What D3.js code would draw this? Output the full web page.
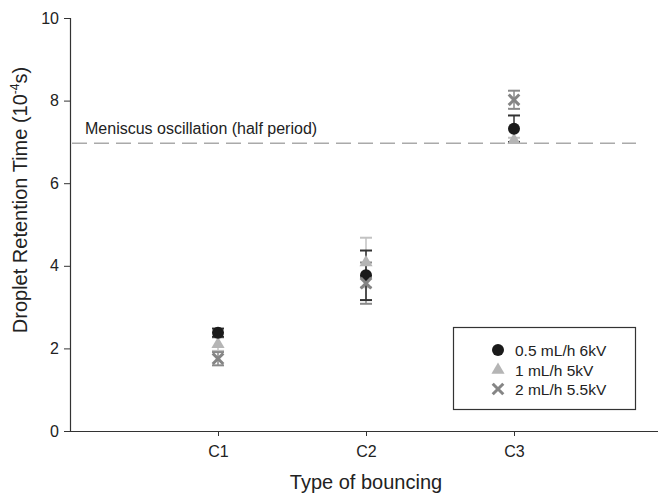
<!DOCTYPE html>
<html><head><meta charset="utf-8">
<script src="https://cdn.jsdelivr.net/npm/d3@7"></script>
<style>body{margin:0;background:#fff}svg{display:block}text{font-family:"Liberation Sans",Arial,sans-serif}</style>
</head><body><svg id="c" width="658" height="493"></svg>
<script>
const categories = ["C1","C2","C3"];
const seriesNames = ["0.5 mL/h 6kV","1 mL/h 5kV","2 mL/h 5.5kV"];
const circleVals = [2.38, 3.77, 7.32];
const circleErr = [0.10, 0.60, 0.32];
const triVals = [2.10, 4.08, 7.04];
const triErr = [0.16, 0.60, 0.06];
const crossVals = [1.75, 3.58, 8.02];
const crossErr = [0.16, 0.50, 0.22];
const yTicks = [0,2,4,6,8,10];
const refLine = 6.97;
const refLabel = "Meniscus oscillation (half period)";

const svg = d3.select("#c");
const x = d3.scaleLinear().domain([0,4]).range([70,662]);
const y = d3.scaleLinear().domain([0,10]).range([431,18]);
const xc = i => x(i+1);

// axes
const ya = svg.append("g").attr("transform","translate(70,0)")
  .call(d3.axisLeft(y).tickValues(yTicks).tickSize(6).tickPadding(5));
ya.selectAll("text").attr("font-size",16).attr("fill","#222");
const xa = svg.append("g").attr("transform","translate(0,431)")
  .call(d3.axisBottom(x).tickValues([1,2,3]).tickFormat(d=>categories[d-1]).tickSize(5).tickPadding(10));
xa.selectAll("text").attr("font-size",16).attr("fill","#222");
svg.selectAll(".domain").attr("stroke","#333").attr("stroke-width",1.2);
svg.selectAll(".tick line").attr("stroke","#333");
xa.select(".domain").attr("d","M70,0.5H658");
ya.select(".domain").attr("d","M0.5,18V431");

// titles
svg.append("text").attr("x",366).attr("y",489).attr("text-anchor","middle").attr("font-size",20).attr("fill","#222").text("Type of bouncing");
const yl = svg.append("text").attr("transform","translate(27,200) rotate(-90)").attr("text-anchor","middle").attr("font-size",20).attr("fill","#222");
yl.append("tspan").text("Droplet Retention Time (10");
yl.append("tspan").attr("font-size",12).attr("dy",-8).text("-4");
yl.append("tspan").attr("dy",8).text("s)");

// reference line
svg.append("line").attr("x1",72).attr("x2",636).attr("y1",y(refLine)).attr("y2",y(refLine))
  .attr("stroke","#aaa").attr("stroke-width",1.5).attr("stroke-dasharray","15,7");
svg.append("text").attr("x",85).attr("y",y(refLine)-9).attr("font-size",16).attr("fill","#222").text(refLabel);

function errbars(vals, errs, color){
  const g = svg.append("g").attr("stroke",color).attr("stroke-width",1.5);
  vals.forEach((v,i)=>{
    const cx = xc(i);
    g.append("line").attr("x1",cx).attr("x2",cx).attr("y1",y(v-errs[i])).attr("y2",y(v+errs[i]));
    [v-errs[i], v+errs[i]].forEach(e=>g.append("line").attr("x1",cx-6).attr("x2",cx+6).attr("y1",y(e)).attr("y2",y(e)).attr("stroke-width",2));
  });
}
errbars(triVals, triErr, "#c2c2c2");
errbars(crossVals, crossErr, "#8a8a8a");
errbars(circleVals, circleErr, "#333");

const triSym = d3.symbol().type(d3.symbolTriangle).size(75);
const crossSym = d3.symbol().type(d3.symbolX).size(75);
function drawTri(g,cx,cy){ g.append("path").attr("d",triSym()).attr("transform",`translate(${cx},${cy})`).attr("fill","#b5b5b5"); }
function drawCross(g,cx,cy){ g.append("path").attr("d",crossSym()).attr("transform",`translate(${cx},${cy})`).attr("fill","none").attr("stroke","#858585").attr("stroke-width",3); }
function drawCircle(g,cx,cy){ g.append("circle").attr("cx",cx).attr("cy",cy).attr("r",6).attr("fill","#1a1a1a"); }

const pts = svg.append("g");
triVals.forEach((v,i)=>drawTri(pts,xc(i),y(v)));
circleVals.forEach((v,i)=>drawCircle(pts,xc(i),y(v)));
crossVals.forEach((v,i)=>drawCross(pts,xc(i),y(v)));

// legend
const lg = svg.append("g");
lg.append("rect").attr("x",453.5).attr("y",327.5).attr("width",182).attr("height",82).attr("fill","#fff").attr("stroke","#333").attr("stroke-width",1.2);
const rows = [350,370,389];
drawCircle(lg,498,rows[0]);
drawTri(lg,498,rows[1]);
drawCross(lg,498,rows[2]);
seriesNames.forEach((n,i)=>lg.append("text").attr("x",515).attr("y",rows[i]+6).attr("font-size",15.5).attr("fill","#222").text(n));
</script></body></html>
